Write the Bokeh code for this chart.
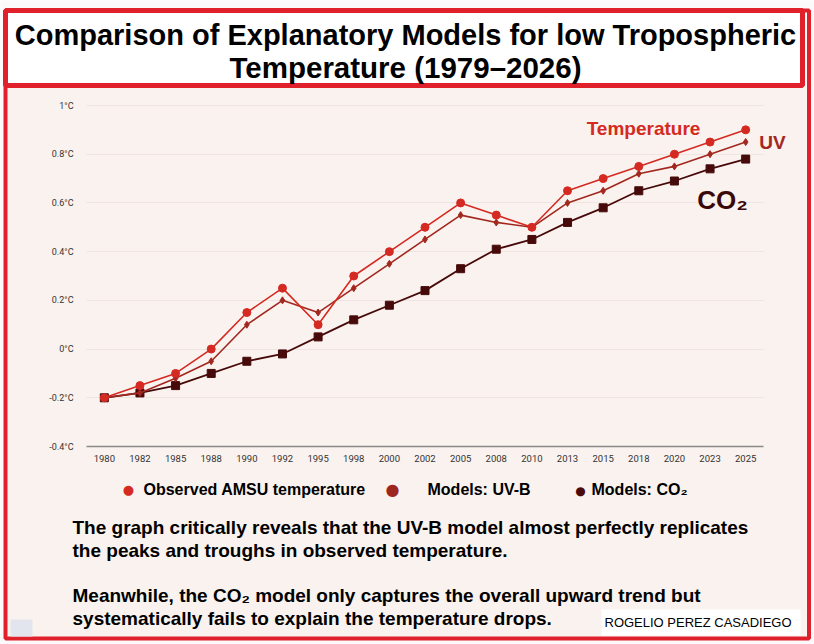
from bokeh.plotting import figure
from bokeh.models import Range1d, FixedTicker, Label, BoxAnnotation, LinearAxis
from bokeh.embed import file_html
from bokeh.resources import INLINE

# ---------------- data ----------------
years = ["1980", "1982", "1985", "1988", "1990", "1992", "1995", "1998", "2000", "2002",
         "2005", "2008", "2010", "2013", "2015", "2018", "2020", "2023", "2025"]
temperature = [-0.20, -0.15, -0.10, 0.00, 0.15, 0.25, 0.10, 0.30, 0.40, 0.50,
               0.60, 0.55, 0.50, 0.65, 0.70, 0.75, 0.80, 0.85, 0.90]
uv_model = [-0.20, -0.18, -0.12, -0.05, 0.10, 0.20, 0.15, 0.25, 0.35, 0.45,
            0.55, 0.52, 0.50, 0.60, 0.65, 0.72, 0.75, 0.80, 0.85]
co2_model = [-0.20, -0.18, -0.15, -0.10, -0.05, -0.02, 0.05, 0.12, 0.18, 0.24,
             0.33, 0.41, 0.45, 0.52, 0.58, 0.65, 0.69, 0.74, 0.78]
y_ticks = [-0.4, -0.2, 0.0, 0.2, 0.4, 0.6, 0.8, 1.0]
y_tick_labels = ["-0.4°C", "-0.2°C", "0°C", "0.2°C", "0.4°C", "0.6°C", "0.8°C", "1°C"]

title_lines = ["Comparison of Explanatory Models for low Tropospheric",
               "Temperature (1979–2026)"]
legend_labels = ["Observed AMSU temperature", "Models: UV-B", "Models: CO₂"]
body_lines = ["The graph critically reveals that the UV-B model almost perfectly replicates",
              "the peaks and troughs in observed temperature.",
              "Meanwhile, the CO₂ model only captures the overall upward trend but",
              "systematically fails to explain the temperature drops."]
credit = "ROGELIO PEREZ CASADIEGO"

# ---------------- layout / style ----------------
W, H = 814, 644
FL, FR, FT, FB = 86, 763, 105, 446  # chart data area in canvas px
Y0, Y1 = y_ticks[0], y_ticks[-1]
n = len(years)
x_pos = list(range(n))
slot = (FR - FL) / n
ppu = (FB - FT) / (Y1 - Y0)
x_lo = -FL / slot - 0.5
x_hi = (W - FL) / slot - 0.5
y_hi = Y1 + FT / ppu
y_lo = Y0 - (H - FB) / ppu

RED = "#e0202a"
PINK = "#faf2ee"
C_T, C_UV, C_CO2 = "#d42a22", "#a2281f", "#470a0a"
SANS = "Liberation Sans"

p = figure(width=W, height=H, output_backend="svg", toolbar_location=None,
           x_range=Range1d(x_lo, x_hi), y_range=Range1d(y_lo, y_hi),
           x_axis_location=None, y_axis_location=None,
           min_border=0)
p.border_fill_color = "#fbf9f9"
p.background_fill_color = "#fbf9f9"
p.outline_line_color = None
p.xgrid.grid_line_color = None

xaxis = LinearAxis(fixed_location=Y0, bounds=(-0.5, n - 0.5),
                   ticker=FixedTicker(ticks=x_pos),
                   major_label_overrides={i: y for i, y in zip(x_pos, years)})
xaxis.axis_line_color = "#8a8a8a"
xaxis.axis_line_width = 1.5
xaxis.major_tick_line_color = None
xaxis.minor_tick_line_color = None
xaxis.major_label_standoff = 2
xaxis.major_label_text_font = "Roboto"
xaxis.major_label_text_font_size = "9.5px"
xaxis.major_label_text_color = "#333333"
p.add_layout(xaxis, "below")

yaxis = LinearAxis(fixed_location=-0.5, bounds=(Y0, Y1),
                   ticker=FixedTicker(ticks=y_ticks),
                   major_label_overrides={t: l for t, l in zip(y_ticks, y_tick_labels)})
yaxis.axis_line_color = None
yaxis.major_tick_line_color = None
yaxis.minor_tick_line_color = None
yaxis.major_label_standoff = 7
yaxis.major_label_text_font = "Roboto"
yaxis.major_label_text_font_size = "9px"
yaxis.major_label_text_color = "#333333"
p.add_layout(yaxis, "left")

grid_props = dict(line_color="#efe5e0", line_width=1)
p.ygrid.ticker = FixedTicker(ticks=y_ticks[1:])
p.ygrid.grid_line_color = grid_props["line_color"]
p.ygrid.grid_line_width = 1
if hasattr(p.ygrid[0], "cross_bounds"):
    p.ygrid.cross_bounds = (-0.5, n - 0.5)
else:
    p.ygrid.grid_line_color = None
    p.segment(x0=[-0.5] * (len(y_ticks) - 1), x1=[n - 0.5] * (len(y_ticks) - 1),
              y0=y_ticks[1:], y1=y_ticks[1:], level="underlay", **grid_props)


def sx(cx):
    return cx


def sy(cy):
    return H - cy


def box(x0, y0, x1, y1, fill, line=None, lw=0, level="annotation"):
    b = BoxAnnotation(left=sx(x0), right=sx(x1), top=sy(y0), bottom=sy(y1),
                      left_units="screen", right_units="screen",
                      top_units="screen", bottom_units="screen",
                      fill_color=fill if fill else "#ffffff", fill_alpha=1.0 if fill else 0,
                      line_color=line if line else "#ffffff", line_width=lw,
                      line_alpha=1.0 if line else 0, level=level)
    p.add_layout(b)


def label(text, cx, cy, size, color="#000000", font=SANS, style="bold", align="left"):
    p.add_layout(Label(x=sx(cx), y=sy(cy), x_units="screen", y_units="screen", text=text,
                       text_font=font, text_font_size=f"{size}px", text_font_style=style,
                       text_color=color, text_align=align, text_baseline="middle"))


# background panels
box(7, 86, 806, 636, PINK, level="image")
box(5, 10, 802, 85, "#ffffff", RED, 5)
box(5, 10, 808.5, 638, None, RED, 4)
box(10, 619, 32, 636, "#e3e5ee")
box(601, 609, 800, 635, "#ffffff")

# data series
p.line(x_pos, co2_model, line_color=C_CO2, line_width=1.8)
p.scatter(x_pos, co2_model, marker="square", size=8, fill_color=C_CO2, line_color=C_CO2)
p.line(x_pos, uv_model, line_color=C_UV, line_width=1.6)
p.scatter(x_pos, uv_model, marker="diamond", size=7, fill_color=C_UV, line_color=C_UV)
p.line(x_pos, temperature, line_color=C_T, line_width=1.6)
p.scatter(x_pos, temperature, marker="circle", size=8, fill_color=C_T, line_color=C_T)

# series labels
label("Temperature", 643, 128, 19, C_T, align="center")
label("UV", 772, 142, 19, C_UV, align="center")
label("CO₂", 722, 199, 26, "#3b0808", align="center")

# title
label(title_lines[0], 405, 34, 29, align="center")
label(title_lines[1], 405, 67, 29.5, align="center")

# legend
dots = [(128, 489, 13, C_T), (392, 489, 16, "#9e2620"), (580, 490, 12, "#4a0a0a")]
text_x = [143, 427, 591]
for (dx, dy, ds, dc), tx, lab in zip(dots, text_x, legend_labels):
    label("●", dx, dy, ds, dc, font="DejaVu Sans", style="normal", align="center")
    label(lab, tx, 489, 16)

# body text
for line_text, cy in zip(body_lines, [527, 550, 595, 618]):
    label(line_text, 72, cy, 19)

label(credit, 604, 622, 13, style="normal")

open("out.html", "w").write(file_html(p, INLINE))
